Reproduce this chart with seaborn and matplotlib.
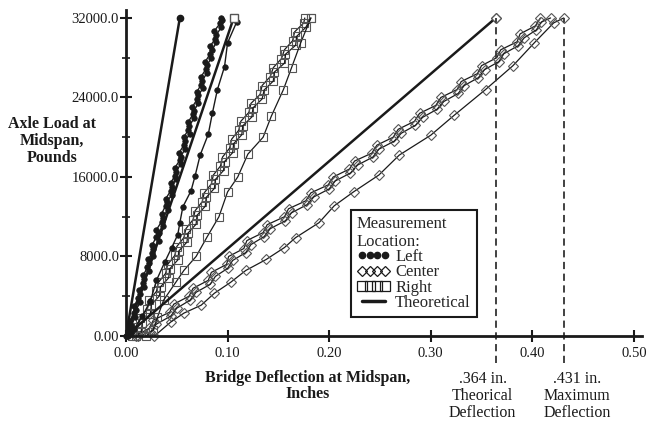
import numpy as np
import pandas as pd
import seaborn as sns
import matplotlib.pyplot as plt
from matplotlib.lines import Line2D
from matplotlib import transforms

# Deflection (in) and axle load (lb)
# left gauge: two closely spaced runs and one coarse run
left_run1_d = [0.001, 0.004, 0.004, 0.008, 0.008, 0.012, 0.013, 0.017, 0.017, 0.021, 0.022,
               0.026, 0.026, 0.030, 0.030, 0.035, 0.035, 0.039, 0.039, 0.044, 0.044, 0.048,
               0.048, 0.053, 0.052, 0.057, 0.057, 0.061, 0.061, 0.066, 0.065, 0.070, 0.070,
               0.074, 0.074, 0.079, 0.078, 0.083, 0.083, 0.088, 0.087, 0.093, 0.094]
left_run1_L = [0, 700, 1500, 2300, 3000, 3800, 4600, 5300, 6100, 6900, 7700,
               8400, 9200, 10000, 10700, 11500, 12300, 13100, 13800, 14600, 15400, 16100,
               16900, 17700, 18400, 19200, 20000, 20700, 21500, 22300, 23000, 23800, 24600,
               25300, 26100, 26900, 27600, 28400, 29200, 29900, 30700, 31500, 32000]

left_run2_d = [0.002, 0.005, 0.005, 0.009, 0.010, 0.014, 0.014, 0.018, 0.018, 0.023, 0.023,
               0.027, 0.027, 0.032, 0.032, 0.036, 0.036, 0.041, 0.040, 0.045, 0.045, 0.049,
               0.049, 0.054, 0.054, 0.058, 0.058, 0.063, 0.062, 0.067, 0.067, 0.071, 0.071,
               0.076, 0.075, 0.080, 0.080, 0.084, 0.085, 0.089, 0.089, 0.094, 0.095]
left_run2_L = [0, 350, 1100, 1900, 2650, 3400, 4200, 4950, 5700, 6500, 7300,
               8050, 8800, 9600, 10350, 11100, 11900, 12700, 13450, 14200, 15000, 15750,
               16500, 17300, 18050, 18800, 19600, 20350, 21100, 21900, 22650, 23400, 24200,
               24950, 25700, 26500, 27250, 28000, 28800, 29550, 30300, 31100, 31800]

left_coarse_d = [0.0, 0.008, 0.016, 0.024, 0.030, 0.038, 0.045, 0.051, 0.053, 0.056, 0.064,
                 0.068, 0.073, 0.081, 0.085, 0.090, 0.097, 0.100, 0.109]
left_coarse_L = [0, 700, 2000, 3500, 5600, 7400, 8900, 10200, 11400, 13000, 14600,
                 16100, 18200, 20300, 22400, 24800, 27100, 29500, 31600]

# right gauge
right_run1_d = [0.006, 0.012, 0.014, 0.021, 0.023, 0.030, 0.032, 0.039, 0.041, 0.048, 0.050,
                0.057, 0.059, 0.066, 0.068, 0.075, 0.077, 0.084, 0.086, 0.093, 0.095, 0.102,
                0.104, 0.111, 0.113, 0.121, 0.123, 0.132, 0.134, 0.142, 0.145, 0.153, 0.156,
                0.164, 0.166, 0.175, 0.176]
right_run1_L = [0, 900, 1800, 2700, 3600, 4500, 5400, 6300, 7200, 8100, 9000,
                9900, 10800, 11700, 12600, 13500, 14400, 15300, 16200, 17100, 18000, 18900,
                19800, 20700, 21600, 22500, 23400, 24300, 25200, 26100, 27000, 27900, 28800,
                29700, 30600, 31500, 32000]

right_run2_d = [0.010, 0.015, 0.016, 0.024, 0.025, 0.033, 0.034, 0.042, 0.043, 0.051, 0.052,
                0.060, 0.061, 0.069, 0.070, 0.078, 0.079, 0.087, 0.088, 0.096, 0.097, 0.105,
                0.106, 0.114, 0.115, 0.124, 0.125, 0.134, 0.136, 0.145, 0.146, 0.156, 0.157,
                0.167, 0.168, 0.177, 0.182]
right_run2_L = [0, 450, 1350, 2250, 3150, 4050, 4950, 5850, 6750, 7650, 8550,
                9450, 10350, 11250, 12150, 13050, 13950, 14850, 15750, 16650, 17550, 18450,
                19350, 20250, 21150, 22050, 22950, 23850, 24750, 25650, 26550, 27450, 28350,
                29250, 30150, 31050, 32000]

right_coarse_d = [0.020, 0.027, 0.031, 0.037, 0.049, 0.057, 0.069, 0.080, 0.0915, 0.100,
                  0.110, 0.120, 0.135, 0.143, 0.155, 0.163, 0.172, 0.182]
right_coarse_L = [0, 600, 1900, 3600, 5400, 6600, 8000, 10000, 12000, 14500,
                  16000, 18300, 20000, 22100, 24800, 27000, 29500, 32000]

# center gauge
center_run1_d = [0.010, 0.023, 0.027, 0.043, 0.047, 0.062, 0.066, 0.081, 0.084, 0.099, 0.101,
                 0.116, 0.119, 0.135, 0.139, 0.156, 0.160, 0.177, 0.182, 0.199, 0.204, 0.220,
                 0.225, 0.242, 0.247, 0.263, 0.268, 0.284, 0.289, 0.305, 0.310, 0.326, 0.330,
                 0.346, 0.350, 0.365, 0.369, 0.385, 0.388, 0.403, 0.408]
center_run1_L = [0, 800, 1600, 2400, 3200, 4000, 4800, 5600, 6400, 7200, 8000,
                 8800, 9600, 10400, 11200, 12000, 12800, 13600, 14400, 15200, 16000, 16800,
                 17600, 18400, 19200, 20000, 20800, 21600, 22400, 23200, 24000, 24800, 25600,
                 26400, 27200, 28000, 28800, 29600, 30400, 31200, 32000]

center_run2_d = [0.012, 0.024, 0.030, 0.044, 0.050, 0.063, 0.069, 0.083, 0.088, 0.100, 0.105,
                 0.118, 0.123, 0.136, 0.142, 0.157, 0.163, 0.178, 0.185, 0.200, 0.206, 0.221,
                 0.228, 0.243, 0.249, 0.264, 0.271, 0.285, 0.292, 0.306, 0.313, 0.327, 0.333,
                 0.347, 0.353, 0.367, 0.372, 0.386, 0.392, 0.404, 0.409, 0.418]
center_run2_L = [0, 400, 1200, 2000, 2800, 3600, 4400, 5200, 6000, 6800, 7600,
                 8400, 9200, 10000, 10800, 11600, 12400, 13200, 14000, 14800, 15600, 16400,
                 17200, 18000, 18800, 19600, 20400, 21200, 22000, 22800, 23600, 24400, 25200,
                 26000, 26800, 27600, 28400, 29200, 30000, 30800, 31600, 32000]

center_coarse_d = [0.028, 0.044, 0.057, 0.074, 0.087, 0.103, 0.118, 0.138, 0.156, 0.167, 0.190,
                   0.205, 0.224, 0.249, 0.269, 0.300, 0.323, 0.354, 0.381, 0.402, 0.421, 0.431]
center_coarse_L = [0, 1400, 2300, 3100, 4300, 5400, 6600, 7700, 8900, 9900, 11400,
                   13100, 14500, 16200, 18200, 20200, 22200, 24800, 27200, 29500, 31500, 32000]

theory_L = [0, 32000]
theory_left_d = [0, 0.053]
theory_right_d = [0, 0.106]
theory_center_d = [0, 0.364]

theorical_defl = 0.364
max_defl = 0.431

x_ticks = [0.0, 0.1, 0.2, 0.3, 0.4, 0.5]
x_labels = ['0.00', '0.10', '0.20', '0.30', '0.40', '0.50']
y_ticks = [0, 8000, 16000, 24000, 32000]
y_labels = ['0.00', '8000.0', '16000.0', '24000.0', '32000.0']
y_minor = [4000, 12000, 20000, 28000]

sns.set_style('ticks')
plt.rcParams['font.family'] = ['Liberation Serif', 'DejaVu Serif']

fig = plt.figure(figsize=(6.47, 4.22), dpi=100)
ax = fig.add_axes([126 / 647, 86 / 422, 516 / 647, 326 / 422])

ink = '#1a1a1a'
grey = '#555555'

def draw(d, L, **kw):
    sns.lineplot(x=d, y=L, ax=ax, estimator=None, sort=False, color=ink, clip_on=False, **kw)

diamond = dict(marker='D', markersize=4.6, mfc='none', mec=grey, mew=0.8, linewidth=0.9)
square = dict(marker='s', markersize=5.4, mfc='none', mec=grey, mew=0.8, linewidth=0.9)
dot = dict(marker='o', markersize=4, mfc=ink, mec=ink, mew=0.5, linewidth=1.0)

# measured runs
draw(center_run1_d, center_run1_L, **diamond)
draw(center_run2_d, center_run2_L, **diamond)
draw(center_coarse_d, center_coarse_L, **diamond)
draw(right_run1_d, right_run1_L, **square)
draw(right_run2_d, right_run2_L, **square)
draw(right_coarse_d, right_coarse_L, **square)
draw(left_run1_d, left_run1_L, **dot)
draw(left_run2_d, left_run2_L, **dot)
draw(left_coarse_d, left_coarse_L, **dot)

# theoretical lines
draw(theory_left_d, theory_L, linewidth=1.8)
draw(theory_right_d, theory_L, linewidth=1.8)
draw(theory_center_d, theory_L, linewidth=1.8)
ax.plot(theory_left_d[-1:], theory_L[-1:], 'o', ms=4.5, color=ink, clip_on=False)
ax.plot(theory_right_d[-1:], theory_L[-1:], 's', ms=5.5, mfc='white', mec=grey, clip_on=False)
ax.plot(theory_center_d[-1:], theory_L[-1:], 'D', ms=5.5, mfc='white', mec=grey, clip_on=False)

# dashed markers for theoretical and maximum deflection
for xv in [theorical_defl, max_defl]:
    ax.plot([xv, xv], [-2700, 32000], color='#333333', linewidth=1.3,
            linestyle=(0, (4, 2.5)), clip_on=False)

ax.set_xlim(0, 0.508)
ax.set_ylim(0, 32800)
ax.set_xticks(x_ticks)
ax.set_xticklabels(x_labels)
ax.set_yticks(y_ticks)
ax.set_yticklabels(y_labels)
ax.set_yticks(y_minor, minor=True)
ax.tick_params(axis='both', which='major', direction='inout', length=8, width=1.5,
               labelsize=10.5, colors=ink)
ax.tick_params(axis='x', which='major', pad=4)
ax.tick_params(axis='y', which='major', pad=1)
ax.tick_params(axis='y', which='minor', direction='inout', length=6, width=1.2, color=ink)
ax.set_xlabel('')
ax.set_ylabel('')
sns.despine(ax=ax)
for s in ['left', 'bottom']:
    ax.spines[s].set_linewidth(2)
    ax.spines[s].set_color(ink)

fig.text(52 / 647, 1 - 141 / 422, 'Axle Load at\nMidspan,\nPounds', ha='center', va='center',
         fontsize=11.5, fontweight='bold', linespacing=1.05, color=ink)
fig.text(308 / 647, 1 - 386 / 422, 'Bridge Deflection at Midspan,\nInches', ha='center',
         va='center', fontsize=11.5, fontweight='bold', linespacing=1.05, color=ink)

trans = transforms.blended_transform_factory(ax.transData, fig.transFigure)
ax.annotate('.364 in.\nTheorical\nDeflection', xy=(theorical_defl, 1 - 396 / 422),
            xycoords=trans, xytext=(-9.5, 0), textcoords='offset points',
            ha='center', va='center', fontsize=11.5, linespacing=1.12, color=ink)
ax.annotate('.431 in.\nMaximum\nDeflection', xy=(max_defl, 1 - 396 / 422),
            xycoords=trans, xytext=(9.5, 0), textcoords='offset points',
            ha='center', va='center', fontsize=11.5, linespacing=1.12, color=ink)

handles = [
    Line2D([], [], ls='none', marker='o', ms=4.5, color=ink),
    Line2D([], [], ls='none', marker='D', ms=5.5, mfc='none', mec=ink, mew=0.9),
    Line2D([], [], ls='none', marker='s', ms=6.5, mfc='none', mec=ink, mew=0.9),
    Line2D([], [], color=ink, lw=2.5),
]
leg = ax.legend(handles, ['Left', 'Center', 'Right', 'Theoretical'],
                title='Measurement\nLocation:', alignment='left', numpoints=4,
                loc='upper left', bbox_to_anchor=(0.436, 0.387), borderaxespad=0,
                fancybox=False, framealpha=1, edgecolor=ink, fontsize=12, title_fontsize=12,
                handlelength=2.0, handletextpad=0.3, labelspacing=-0.05, borderpad=0.35)
leg.get_frame().set_linewidth(1.5)

fig.savefig('out.png', dpi=100)
